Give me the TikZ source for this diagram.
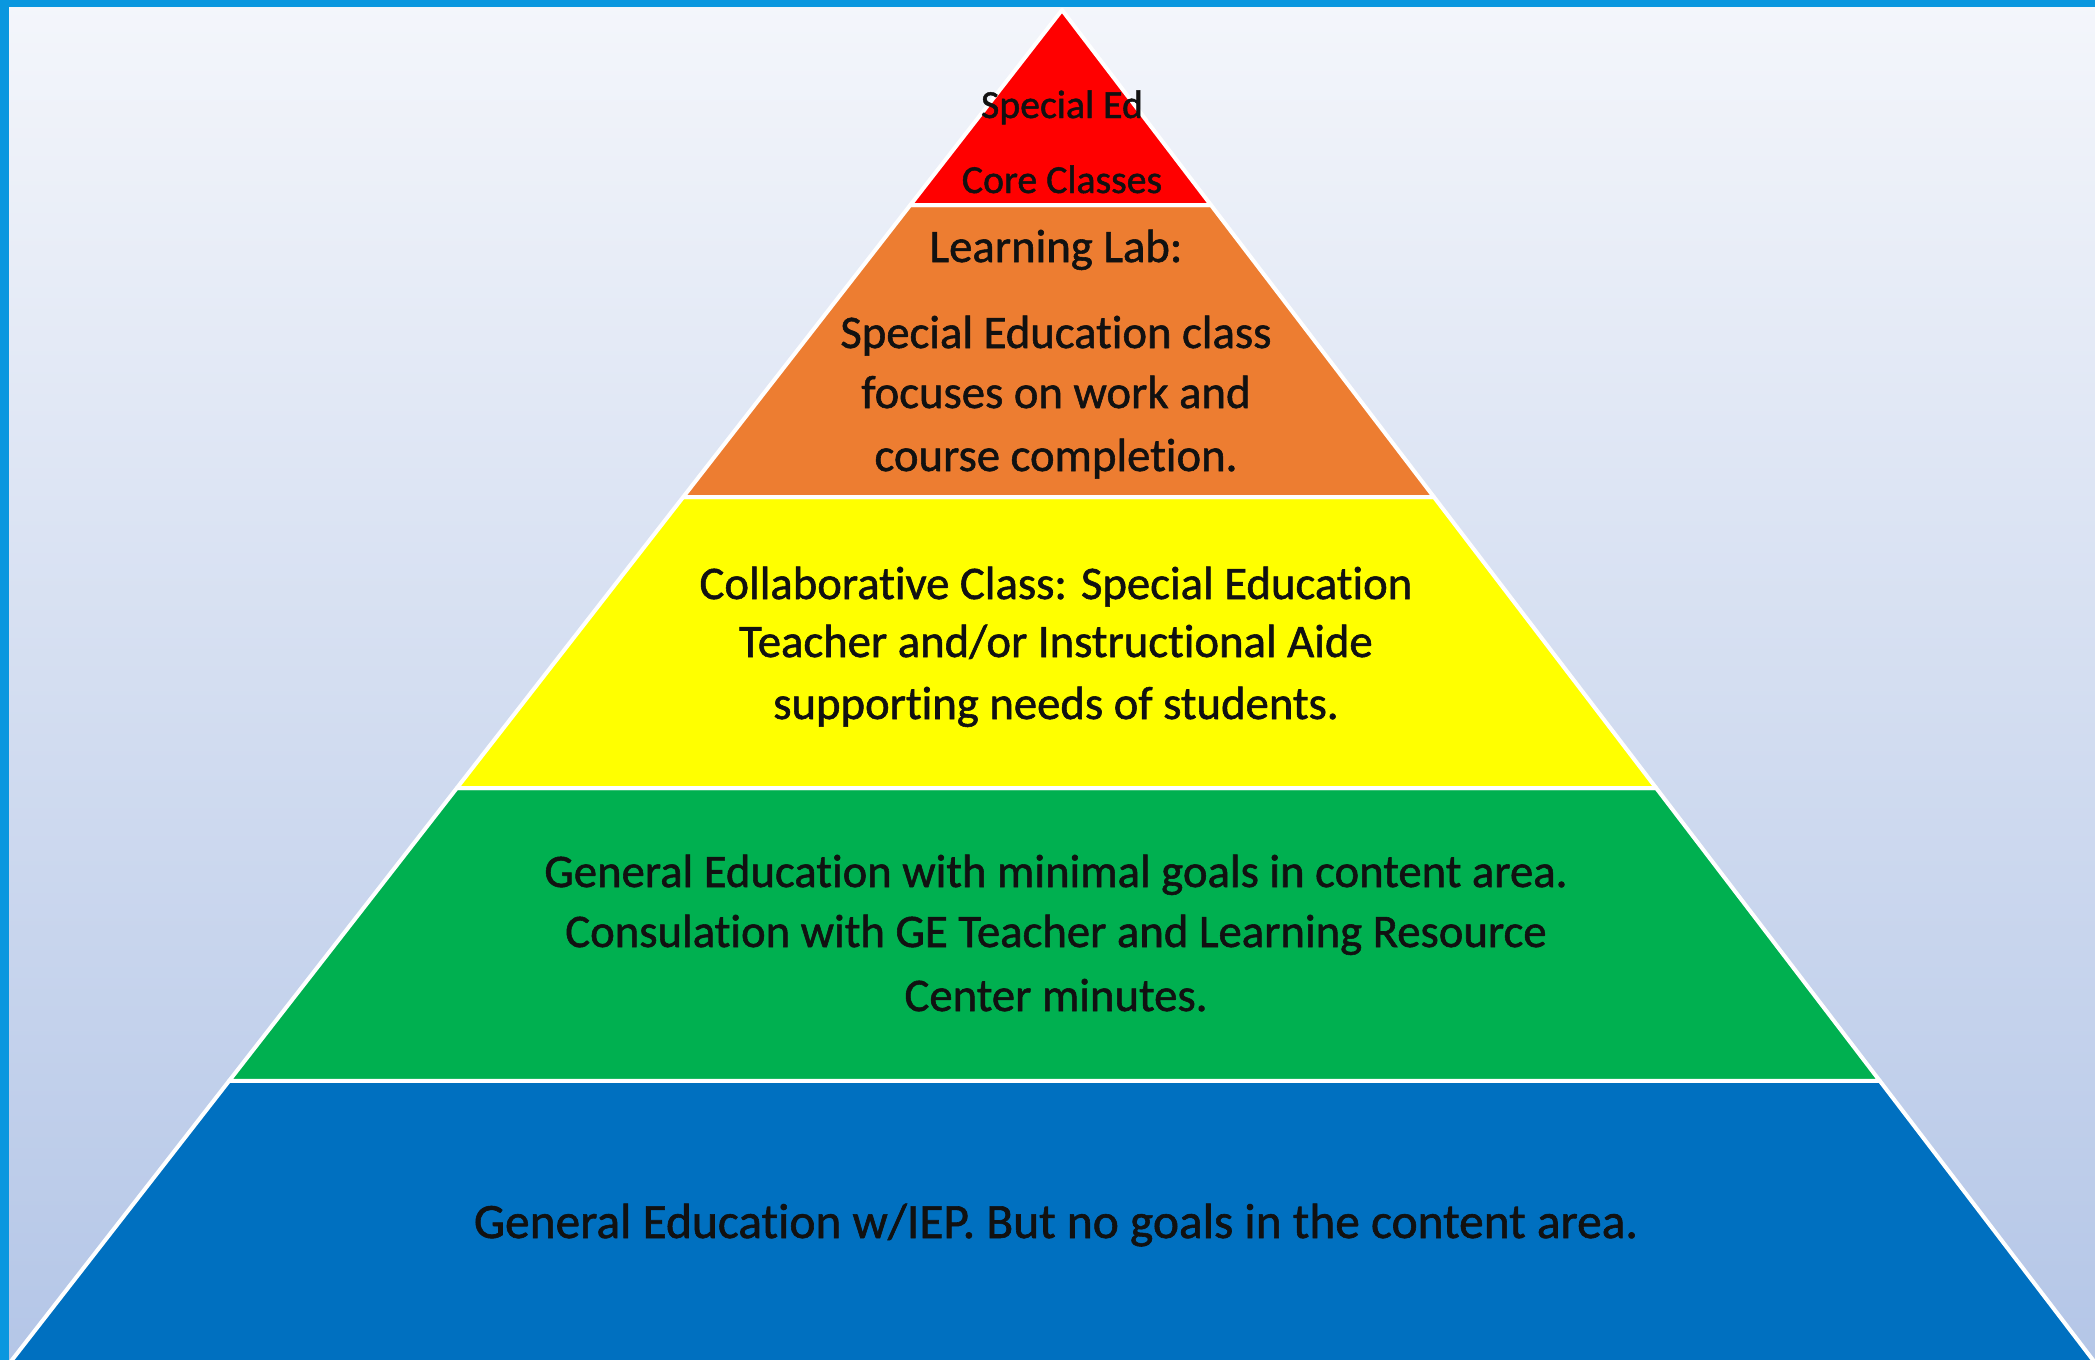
\documentclass[tikz,border=0pt]{standalone}
\usepackage{fontspec}
\setmainfont{Carlito}[FakeBold=1.2,Ligatures=NoCommon]
\usetikzlibrary{calc}
\definecolor{bgtop}{HTML}{F4F6FB}
\definecolor{bgbot}{HTML}{B4C6E7}
\definecolor{framecol}{HTML}{0A97DF}
\definecolor{lvred}{HTML}{FF0000}
\definecolor{lvorange}{HTML}{ED7D31}
\definecolor{lvyellow}{HTML}{FFFF00}
\definecolor{lvgreen}{HTML}{00B050}
\definecolor{lvblue}{HTML}{0070C0}
\definecolor{inktext}{HTML}{111111}
\begin{document}
\begin{tikzpicture}[x=0.5pt,y=-0.5pt,
  band/.style={draw=white,line width=2pt,line join=round},
  lbl/.style={anchor=base,inner sep=0pt,font=\fontsize{23.35pt}{28.5pt}\selectfont,text=inktext},
  biglbl/.style={anchor=base,inner sep=0pt,font=\fontsize{24.7pt}{30pt}\selectfont,text=inktext},
  toplbl/.style={anchor=base,inner sep=0pt,font=\fontsize{19.9pt}{24pt}\selectfont,text=inktext}]
\useasboundingbox (0,0) rectangle (2095,1360);
\shade[top color=bgtop,bottom color=bgbot] (0,0) rectangle (2095,1360);
% pyramid geometry
\coordinate (apex) at (1062,10);
\coordinate (bl) at (-19.1,1400);
\coordinate (br) at (2123.5,1400);
\coordinate (l1) at ($(apex)!0.14029!(bl)$);
\coordinate (r1) at ($(apex)!0.14029!(br)$);
\coordinate (l2) at ($(apex)!0.35036!(bl)$);
\coordinate (r2) at ($(apex)!0.35036!(br)$);
\coordinate (l3) at ($(apex)!0.55971!(bl)$);
\coordinate (r3) at ($(apex)!0.55971!(br)$);
\coordinate (l4) at ($(apex)!0.77050!(bl)$);
\coordinate (r4) at ($(apex)!0.77050!(br)$);
\begin{scope}
\clip (0,0) rectangle (2095,1360);
\filldraw[band,fill=lvblue] (l4) -- (r4) -- (br) -- (bl) -- cycle;
\filldraw[band,fill=lvgreen] (l3) -- (r3) -- (r4) -- (l4) -- cycle;
\filldraw[band,fill=lvyellow] (l2) -- (r2) -- (r3) -- (l3) -- cycle;
\filldraw[band,fill=lvorange] (l1) -- (r1) -- (r2) -- (l2) -- cycle;
\filldraw[band,fill=lvred] (apex) -- (r1) -- (l1) -- cycle;
\end{scope}
% labels
\node[toplbl] (red1) at (1062,118) {Special Ed};
\node[toplbl] (red2) at (1062,193) {Core Classes};
\node[lbl] (or1) at (1056,262) {Learning Lab:};
\node[lbl] (or2) at (1056,348) {Special Education class};
\node[lbl] (or3) at (1056,408) {focuses on work and};
\node[lbl] (or4) at (1056,471) {course completion.};
\node[lbl] (ye1) at (1056,599) {Collaborative Class: Special Education};
\node[lbl] (ye2) at (1056,657) {Teacher and/or Instructional Aide};
\node[lbl] (ye3) at (1056,719) {supporting needs of students.};
\node[lbl] (gr1) at (1056,887) {General Education with minimal goals in content area.};
\node[lbl] (gr2) at (1056,947) {Consulation with GE Teacher and Learning Resource};
\node[lbl] (gr3) at (1056,1011) {Center minutes.};
\node[biglbl] (bl1) at (1056,1238) {General Education w/IEP. But no goals in the content area.};
% frame
\fill[framecol] (0,0) rectangle (2095,7);
\fill[framecol] (0,0) rectangle (9,1360);
\end{tikzpicture}
\end{document}
